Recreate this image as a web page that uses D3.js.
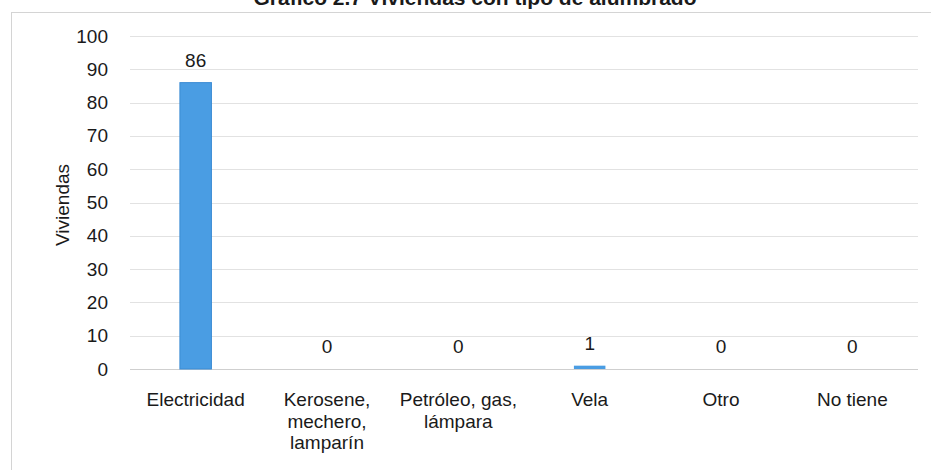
<!DOCTYPE html>
<html>
<head>
<meta charset="utf-8">
<script src="https://cdn.jsdelivr.net/npm/d3@7"></script>
<style>
  body { margin: 0; background: #fff; }
  text { font-family: "Liberation Sans Narrow", "Arial Narrow", "Liberation Sans", sans-serif; fill: #1a1a1a; }
</style>
</head>
<body>
<div id="chart"></div>
<script>
const categories = [
  ["Electricidad"],
  ["Kerosene,", "mechero,", "lamparín"],
  ["Petróleo, gas,", "lámpara"],
  ["Vela"],
  ["Otro"],
  ["No tiene"]
];
const values = [86, 0, 0, 1, 0, 0];
const yTicks = [0, 10, 20, 30, 40, 50, 60, 70, 80, 90, 100];
const title = "Gráfico 2.7 Viviendas con tipo de alumbrado";
const yTitle = "Viviendas";

const W = 931, H = 470;
const margin = { top: 36, right: 13, bottom: 101, left: 130 };
const width = W - margin.left - margin.right;
const height = H - margin.top - margin.bottom;

const svg = d3.select('#chart')
  .append('svg')
  .attr('width', W)
  .attr('height', H);

// chart frame (only top and left edges visible in the scan)
svg.append('line')
  .attr('x1', 12).attr('x2', W).attr('y1', 12.5).attr('y2', 12.5)
  .attr('stroke', '#d4d4d4');
svg.append('line')
  .attr('x1', 11.5).attr('x2', 11.5).attr('y1', 12).attr('y2', H)
  .attr('stroke', '#d4d4d4');

// title, cut off at the top
svg.append('text')
  .attr('x', 475)
  .attr('y', 5)
  .attr('text-anchor', 'middle')
  .style('font-size', '21px')
  .style('font-weight', 'bold')
  .text(title);

const g = svg.append('g')
  .attr('transform', `translate(${margin.left},${margin.top})`);

const x = d3.scaleBand()
  .domain(d3.range(categories.length))
  .range([0, width])
  .paddingInner(0.76)
  .paddingOuter(0.38);

const y = d3.scaleLinear()
  .domain([0, 100])
  .range([height, 0]);

// gridlines
g.append('g')
  .selectAll('line')
  .data(yTicks)
  .join('line')
  .attr('x1', 0)
  .attr('x2', width)
  .attr('y1', d => Math.round(y(d)) + 0.5)
  .attr('y2', d => Math.round(y(d)) + 0.5)
  .attr('stroke', d => d === 0 ? '#cfcfcf' : '#e2e2e2');

// y axis
const yAxis = d3.axisLeft(y).tickValues(yTicks).tickSize(0).tickPadding(22);
g.append('g')
  .call(yAxis)
  .call(a => a.select('.domain').remove())
  .selectAll('text')
  .style('font-size', '19px');

// y axis title
g.append('text')
  .attr('transform', `translate(${62 - margin.left},${205 - margin.top}) rotate(-90)`)
  .attr('text-anchor', 'middle')
  .attr('dy', '0.35em')
  .style('font-size', '19px')
  .text(yTitle);

// bars
g.selectAll('rect.bar')
  .data(values)
  .join('rect')
  .attr('class', 'bar')
  .attr('x', (d, i) => x(i))
  .attr('y', d => y(d))
  .attr('width', x.bandwidth())
  .attr('height', d => y(0) - y(d))
  .attr('fill', '#4a9de3')
  .attr('stroke', d => d > 5 ? '#3b8bd3' : 'none')
  .attr('stroke-width', 1);

// value labels
g.selectAll('text.val')
  .data(values)
  .join('text')
  .attr('class', 'val')
  .attr('x', (d, i) => x(i) + x.bandwidth() / 2)
  .attr('y', d => y(d) - 16)
  .attr('text-anchor', 'middle')
  .style('font-size', '19px')
  .text(d => d);

// category labels
const cat = g.selectAll('text.cat')
  .data(categories)
  .join('text')
  .attr('class', 'cat')
  .attr('text-anchor', 'middle')
  .attr('y', height + 37)
  .style('font-size', '19px');

cat.selectAll('tspan')
  .data((d, i) => d.map(line => ({ line, i })))
  .join('tspan')
  .attr('x', d => x(d.i) + x.bandwidth() / 2)
  .attr('dy', (d, j) => j === 0 ? 0 : 21.5)
  .text(d => d.line);
</script>
</body>
</html>
